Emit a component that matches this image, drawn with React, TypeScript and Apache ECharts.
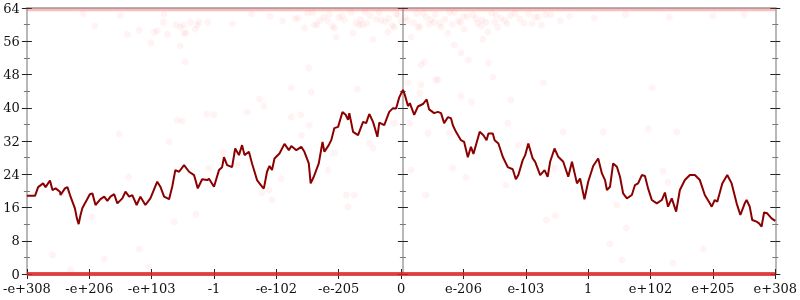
import React, { useEffect, useRef } from "react";
import * as echarts from "echarts";

// Tick labels of the horizontal axis (one per integer position 0..12)
const xLabels = ["-e+308", "-e+206", "-e+103", "-1", "-e-102", "-e-205", "0", "e-206", "e-103", "1", "e+102", "e+205", "e+308"];

// Dark red line: positions (in axis units 0..12) and values
const lineX = [
  0, 0.13, 0.18, 0.26, 0.30, 0.37, 0.41, 0.46, 0.53, 0.54, 0.61, 0.65, 0.70, 0.77, 0.80, 0.83, 0.86, 0.89, 0.96,
  1.01, 1.05, 1.10, 1.18, 1.24, 1.29, 1.34, 1.40, 1.45, 1.53, 1.58, 1.64, 1.69, 1.76, 1.82, 1.90, 1.98,
  2.09, 2.14, 2.20, 2.28, 2.33, 2.38, 2.44, 2.52, 2.60, 2.68, 2.74, 2.81, 2.89, 2.92,
  3.00, 3.08, 3.13, 3.16, 3.21, 3.29, 3.34, 3.40, 3.45, 3.49, 3.56, 3.61, 3.69, 3.77, 3.80, 3.85, 3.89, 3.93, 3.97,
  4.05, 4.13, 4.20, 4.24, 4.32, 4.40, 4.45, 4.52, 4.55, 4.60, 4.68, 4.74, 4.77, 4.84, 4.88, 4.93, 4.99,
  5.06, 5.11, 5.15, 5.17, 5.23, 5.31, 5.39, 5.44, 5.49, 5.55, 5.62, 5.65, 5.73, 5.81, 5.87, 5.92, 5.97,
  6.03, 6.06, 6.11, 6.14, 6.21, 6.27, 6.35, 6.41, 6.45, 6.53, 6.59, 6.64, 6.69, 6.75, 6.80, 6.83, 6.88, 6.96,
  7.01, 7.07, 7.12, 7.16, 7.23, 7.26, 7.32, 7.37, 7.40, 7.47, 7.50, 7.56, 7.63, 7.71, 7.79, 7.84, 7.88, 7.95, 7.99,
  8.04, 8.11, 8.15, 8.23, 8.30, 8.35, 8.39, 8.46, 8.52, 8.60, 8.68, 8.74, 8.82, 8.87, 8.94,
  9.00, 9.08, 9.16, 9.22, 9.27, 9.30, 9.35, 9.40, 9.46, 9.51, 9.56, 9.62, 9.70, 9.75, 9.80, 9.86, 9.91, 9.96,
  10.02, 10.10, 10.18, 10.23, 10.28, 10.34, 10.41, 10.47, 10.55, 10.63, 10.71, 10.79, 10.87, 10.95, 10.98,
  11.03, 11.07, 11.15, 11.23, 11.30, 11.38, 11.44, 11.51, 11.54, 11.59, 11.63, 11.70, 11.74, 11.78, 11.82, 11.87, 11.94, 12,
];
const lineY = [
  18.8, 18.8, 20.9, 21.8, 20.9, 22.5, 20.2, 20.6, 19.8, 19.0, 20.6, 20.9, 18.6, 15.8, 13.5, 12.0, 14.2, 15.9, 17.8,
  19.2, 19.4, 16.6, 18.0, 18.6, 17.6, 18.6, 19.2, 17.0, 18.2, 19.8, 18.6, 19.0, 16.6, 18.6, 16.6, 18.2,
  22.2, 21.0, 18.6, 18.0, 21.0, 25.0, 24.6, 26.2, 24.6, 23.8, 20.6, 22.8, 22.6, 22.9,
  21.0, 25.0, 25.7, 28.1, 26.2, 25.7, 30.2, 28.6, 31.0, 28.6, 29.4, 26.6, 22.6, 21.0, 20.6, 24.6, 26.0, 25.0, 27.8,
  29.0, 31.3, 29.8, 30.8, 29.8, 30.6, 29.4, 26.6, 21.8, 23.4, 26.6, 31.8, 29.4, 31.0, 32.2, 35.1, 35.4,
  39.0, 38.3, 37.1, 38.7, 34.2, 33.4, 36.6, 36.3, 38.5, 36.6, 33.0, 36.4, 35.8, 39.0, 39.9, 39.8, 42.5,
  44.3, 43.1, 40.4, 41.1, 38.3, 40.3, 40.9, 42.0, 39.6, 38.7, 39.0, 38.7, 36.3, 37.7, 37.5, 35.8, 34.2, 32.2,
  31.8, 28.1, 30.6, 28.9, 32.6, 34.2, 33.4, 32.2, 33.8, 33.8, 32.2, 31.4, 28.2, 25.7, 25.2, 22.8, 23.8, 27.4, 28.6,
  31.4, 27.8, 27.0, 23.8, 25.0, 23.4, 27.0, 30.2, 28.2, 27.0, 23.4, 27.0, 21.8, 23.0, 18.0,
  22.2, 26.0, 27.8, 24.2, 22.6, 20.2, 21.0, 26.6, 25.8, 23.4, 19.4, 18.2, 19.0, 21.4, 21.8, 23.8, 23.6, 20.6,
  17.8, 17.0, 17.8, 19.6, 16.2, 18.2, 15.0, 20.2, 22.6, 23.8, 23.8, 22.6, 19.0, 17.0, 16.2,
  17.8, 17.4, 21.8, 23.8, 21.8, 17.0, 14.2, 17.0, 17.8, 16.2, 13.0, 12.6, 12.2, 11.4, 14.8, 14.6, 13.4, 12.8,
];

// Faint red dots: positions and values
const dotX = [
  1.09, 1.61, 1.80, 2.04, 2.09, 2.19, 2.25, 1.99, 2.39, 2.46, 2.51, 2.52, 2.55, 2.46, 2.54, 2.62, 2.70, 2.76, 2.73,
  1.48, 1.63, 2.28, 2.41, 2.49, 2.89, 3.00, 3.53, 3.73, 3.80, 3.14, 2.92, 3.37, 3.88, 3.77,
  4.24, 4.56, 4.24, 4.39, 4.53, 4.40, 4.83, 4.93, 5.49, 5.55, 5.30, 6.11, 6.32, 6.30, 6.59, 6.96, 7.13, 7.76, 7.71,
  6.14, 5.89, 6.43, 6.77, 6.16, 6.83, 7.04, 7.68, 7.88, 8.04, 5.12, 5.25, 6.40, 4.08, 3.93, 5.15,
  8.28, 10.02, 8.60, 9.24, 9.96, 10.42, 10.20, 10.28, 9.46, 8.47, 8.33, 9.61, 8.46,
  0.41, 1.04, 1.24, 1.80, 1.96, 2.36, 2.71, 0.70, 9.35, 9.54, 10.36, 10.85,
  4.45, 4.61, 4.76, 4.93, 4.96, 5.09, 5.23, 5.33, 5.55, 5.68, 5.79, 5.89, 4.52, 6.37, 6.32, 6.56, 6.85, 6.96, 7.08,
  7.31, 7.47, 7.40, 7.01, 6.64, 6.27, 6.16, 6.53, 6.75, 7.23, 7.39, 7.55,
  3.6, 3.9, 4.3, 4.5, 4.7, 4.85, 5.0, 5.2, 5.35, 5.5, 5.65, 5.8, 5.95, 6.1, 6.25, 6.4, 6.55, 6.7, 6.85, 7.0,
  7.15, 7.3, 7.45, 7.6, 7.75, 7.9, 8.05, 8.2, 8.4, 8.7, 9.1, 9.6, 10.3, 11.0, 2.9, 3.3, 4.1, 4.65, 5.45, 6.0,
  6.45, 6.95, 7.5, 8.1, 8.55, 2.2, 1.5, 0.9, 11.5,
  4.35, 4.58, 4.82, 5.05, 5.28, 5.42, 5.6, 5.74, 5.92, 6.06, 6.2, 6.35, 6.48, 6.62, 6.78, 6.92, 7.06, 7.2, 7.36, 7.52,
  7.66, 7.82, 7.97, 8.15, 8.32, 4.9, 5.38, 5.86, 6.3, 6.82, 7.28, 7.7, 8.25,
];
const dotY = [
  59.7, 57.7, 58.7, 58.2, 58.5, 60.6, 57.7, 55.6, 59.9, 59.4, 59.9, 58.0, 58.0, 54.9, 51.0, 60.6, 58.9, 60.6, 59.9,
  33.7, 23.3, 31.8, 37.0, 36.8, 38.5, 38.3, 39.0, 42.1, 40.4, 29.4, 25.5, 26.2, 20.2, 19.5,
  44.8, 43.8, 37.8, 38.3, 35.8, 33.4, 25.0, 29.1, 31.5, 30.3, 44.5, 46.0, 45.5, 43.5, 46.7, 42.8, 41.4, 41.9, 36.3,
  36.3, 36.3, 33.9, 33.9, 25.0, 25.5, 23.3, 21.4, 31.0, 31.3, 19.0, 19.0, 19.0, 22.9, 17.8, 16.1,
  46.0, 44.8, 34.2, 34.2, 34.9, 34.2, 24.8, 22.1, 16.6, 14.0, 13.0, 11.1, 25.5,
  4.6, 13.7, 3.6, 6.0, 1.7, 12.5, 14.4, 1.0, 7.2, 3.4, 2.6, 6.0,
  59.2, 59.9, 61.8, 59.2, 57.0, 61.1, 58.0, 59.9, 56.5, 61.1, 58.2, 59.4, 49.6, 51.0, 50.3, 46.7, 55.1, 53.2, 51.5,
  56.5, 47.4, 50.8, 58.9, 59.4, 59.4, 57.0, 60.6, 58.0, 60.4, 58.2, 59.4,
  62.6, 62.0, 61.4, 62.8, 61.0, 62.4, 61.7, 63.0, 61.2, 62.2, 62.9, 61.5, 62.3, 61.0, 62.7, 61.8, 62.5, 61.3, 62.9, 61.9,
  62.4, 61.1, 62.8, 61.6, 62.2, 61.4, 62.6, 61.9, 62.3, 62.0, 61.6, 62.4, 61.8, 62.1, 60.6, 60.2, 60.9, 60.0, 60.3, 60.8,
  60.1, 60.5, 60.7, 60.2, 61.0, 62.5, 62.2, 62.7, 62.4,
  61.6, 62.9, 60.9, 62.1, 60.4, 63.1, 61.3, 60.7, 62.6, 61.7, 60.5, 62.8, 61.2, 60.3, 63.0, 60.8, 62.0, 61.5, 60.6, 62.3,
  61.0, 62.7, 60.4, 61.8, 62.4, 59.6, 60.0, 59.8, 59.5, 60.1, 59.7, 60.2, 59.9,
];

// Levels of the saturated bands at the bottom and top of the plot
const bandLevels = [0, 63.6];

export default function App() {
  const ref = useRef<HTMLDivElement>(null);
  useEffect(() => {
    const chart = echarts.init(ref.current!, null, { renderer: "svg" });
    const font = "DejaVu Serif";
    const axisGray = "#b8b8b8";
    const majorTick = { lineStyle: { color: "#222", width: 1 } };
    const minorTickStyle = { lineStyle: { color: "#777", width: 1 } };

    const yAxisMaker = (pos: string, offset: number, inside: boolean, showLine: boolean, showLabel: boolean) => ({
      type: "value",
      min: 0,
      max: 64,
      interval: 8,
      position: pos,
      offset,
      splitLine: { show: false },
      axisLine: { show: showLine, lineStyle: { color: axisGray, width: 2 } },
      axisTick: { show: true, inside, length: 5, ...majorTick },
      minorTick: { show: true, splitNumber: 2, length: 3, ...minorTickStyle },
      axisLabel: { show: showLabel, color: "#111", fontFamily: font, fontSize: 13, margin: 7 },
    });

    const xBase = {
      type: "value",
      min: 0,
      max: 12,
      interval: 1,
      splitLine: { show: false },
    };

    const option = {
      animation: false,
      grid: { left: 24, right: 24, top: 8, bottom: 26, containLabel: false },
      xAxis: [
        {
          ...xBase,
          position: "bottom",
          axisLine: { show: true, onZero: false, lineStyle: { color: axisGray, width: 2 } },
          axisTick: { show: true, length: 5, ...majorTick },
          axisLabel: {
            color: "#111",
            fontFamily: font,
            fontSize: 13,
            margin: 8,
            showMinLabel: true,
            showMaxLabel: true,
            formatter: (v: number) => xLabels[Math.round(v)] ?? "",
          },
        },
        {
          ...xBase,
          position: "bottom",
          axisLine: { show: false, onZero: false },
          axisTick: { show: true, inside: true, length: 5, ...majorTick },
          axisLabel: { show: false },
        },
        {
          ...xBase,
          position: "top",
          axisLine: { show: true, onZero: false, lineStyle: { color: "#999", width: 1.5 } },
          axisTick: { show: false },
          axisLabel: { show: false },
        },
      ],
      yAxis: [
        yAxisMaker("left", 0, false, true, true),
        yAxisMaker("left", 0, true, false, false),
        yAxisMaker("left", -376, false, true, false),
        yAxisMaker("left", -376, true, false, false),
        yAxisMaker("right", 0, false, true, false),
        yAxisMaker("right", 0, true, false, false),
      ],
      series: [
        {
          type: "scatter",
          data: dotX.map((x, i) => [x, dotY[i]]),
          symbolSize: 7,
          itemStyle: { color: "rgba(255,0,0,0.06)" },
          z: 1,
        },
        {
          type: "line",
          data: [[0, bandLevels[0]], [12, bandLevels[0]]],
          showSymbol: false,
          symbol: "none",
          clip: false,
          lineStyle: { color: "rgba(225,35,35,0.8)", width: 4 },
          z: 3,
        },
        {
          type: "line",
          data: [[0, bandLevels[1]], [12, bandLevels[1]]],
          showSymbol: false,
          symbol: "none",
          lineStyle: { color: "rgba(240,70,70,0.35)", width: 3 },
          z: 3,
        },
        {
          type: "line",
          data: lineX.map((x, i) => [x, lineY[i]]),
          showSymbol: false,
          symbol: "none",
          lineStyle: { color: "#8b0000", width: 2 },
          z: 5,
        },
      ],
    };
    chart.setOption(option as any);
    return () => chart.dispose();
  }, []);
  return <div ref={ref} style={{ position: "fixed", left: 0, top: 0, width: 800, height: 300 }} />;
}
